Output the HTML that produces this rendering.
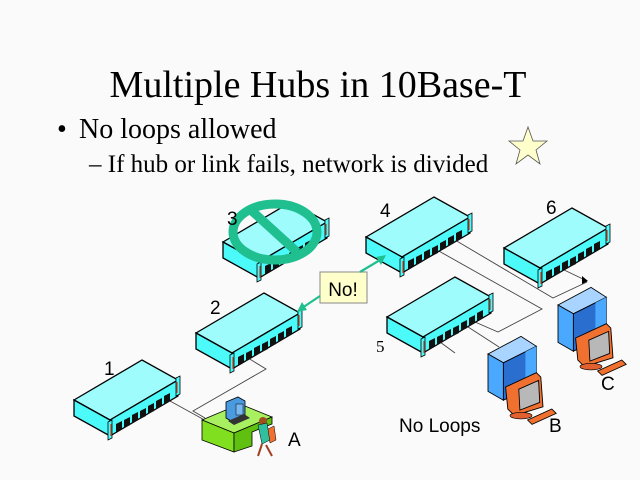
<!DOCTYPE html>
<html><head><meta charset="utf-8"><style>
body{margin:0;background:#fafafa;}
svg{display:block;}
</style></head><body>
<svg width="640" height="480" viewBox="0 0 640 480" xmlns="http://www.w3.org/2000/svg">
<defs>
<g id="hub">
  <polygon points="0,0 68,-40 104,-20 36,20" fill="#9ffcfc" stroke="#000" stroke-width="1.3"/>
  <polygon points="0,0 36,20 36,36 0,16" fill="#4dfafa" stroke="#000" stroke-width="1.3"/>
  <polygon points="36,20 104,-20 104,-4 36,36" fill="#4dfafa" stroke="#000" stroke-width="1.3"/>
  <g fill="#111">
    <polygon points="42,24 48,21 48,29 42,32"/>
    <polygon points="50,20 56,17 56,25 50,28"/>
    <polygon points="58,15 64,12 64,20 58,23"/>
    <polygon points="66,11 72,8 72,16 66,19"/>
    <polygon points="74,6 80,3 80,11 74,14"/>
    <polygon points="82,1 88,-2 88,6 82,9"/>
    <polygon points="90,-4 96,-7 96,1 90,4"/>
  </g>
  <polygon points="34,22 38,20 38,38 34,40" fill="#4dfafa" stroke="#000" stroke-width="0.8"/>
  <line x1="37" y1="24" x2="37" y2="36" stroke="#c04020" stroke-width="1.2"/>
  <polygon points="102,-22 106,-24 106,-6 102,-4" fill="#4dfafa" stroke="#000" stroke-width="0.8"/>
  <line x1="103" y1="-18" x2="103" y2="-7" stroke="#c04020" stroke-width="1.2"/>
</g>
<g id="pc">
  <polygon points="0,0 30,-16 44,-7 14,8" fill="#a8d4ff" stroke="#000" stroke-width="0.8"/>
  <polygon points="0,0 14,8 14,42 0,34" fill="#4aa8ff" stroke="#000" stroke-width="0.8"/>
  <polygon points="14,8 44,-7 44,28 14,42" fill="#2a6fd0" stroke="#000" stroke-width="0.8"/>
  <polygon points="34,-2 44,-7 44,28 34,33" fill="#4aa8ff"/>
  <polygon points="16,30 44,17 48,21 50,48 24,56 18,50" fill="#f07030" stroke="#000" stroke-width="0.8"/>
  <polygon points="28,32 46,24 47,44 29,51" fill="#b8b8b8" stroke="#000" stroke-width="0.8"/>
  <polygon points="36,60 58,50 62,54 40,64" fill="#f07030" stroke="#000" stroke-width="0.8"/>
  <ellipse cx="30" cy="56" rx="10" ry="3" fill="#e06030" stroke="#000" stroke-width="0.6"/>
</g>
</defs>

<text x="318" y="97" text-anchor="middle" font-family="Liberation Serif, serif" font-size="38">Multiple Hubs in 10Base-T</text>
<text x="57" y="138" font-family="Liberation Serif, serif" font-size="28">•</text>
<text x="79" y="138" font-family="Liberation Serif, serif" font-size="28">No loops allowed</text>
<text x="89" y="172" font-family="Liberation Serif, serif" font-size="25">– If hub or link fails, network is divided</text>
<polygon points="528,127 533,141 547,141 536,150 540,164 528,155 516,164 520,150 509,141 523,141" fill="#ffffcc" stroke="#555" stroke-width="0.8"/>

<g fill="none" stroke="#444" stroke-width="0.9">
  <polyline points="170,401 210,423"/>
  <polyline points="248,358 266,369 193,411 205,418"/>
  <polyline points="455,240 553,298 587,282"/>
  <polyline points="437,250 542,309 498,332 475,322"/>
  <polyline points="560,268 585,280"/>
  <polyline points="465,325 499,347"/>
  <polyline points="440,342 455,353"/>
</g>
<polygon points="582,276 588,281 582,284" fill="#000"/>

<use href="#hub" x="74" y="400"/>
<use href="#hub" x="196" y="333"/>
<use href="#hub" x="223" y="242"/>
<use href="#hub" x="366" y="237"/>
<use href="#hub" x="387" y="317"/>
<use href="#hub" x="504" y="248"/>

<ellipse cx="275" cy="232" rx="42" ry="28" fill="none" stroke="#1fbf8f" stroke-width="9"/>
<line x1="252" y1="211" x2="297" y2="252" stroke="#1fbf8f" stroke-width="9"/>

<!-- A workstation -->
<polygon points="202,420 240,404 272,417 234,433" fill="#a8f060" stroke="#000" stroke-width="0.8"/>
<polygon points="202,420 234,433 234,452 202,440" fill="#80e020" stroke="#000" stroke-width="0.8"/>
<polygon points="234,433 272,417 272,424 252,432 252,446 234,452" fill="#60c010" stroke="#000" stroke-width="0.8"/>
<polygon points="226,402 238,397 245,401 245,417 233,422 226,418" fill="#4a9ae0" stroke="#000" stroke-width="0.8"/>
<rect x="236" y="404" width="7" height="11" fill="#7ab8f0" stroke="#000" stroke-width="0.5"/>
<polygon points="228,421 244,414 250,418 234,425" fill="#333"/>
<circle cx="263" cy="421" r="4" fill="#a05020"/>
<polygon points="258,425 267,423 270,440 262,444" fill="#30c0a0" stroke="#000" stroke-width="0.5"/>
<polygon points="268,429 274,426 276,440 270,443" fill="#f07030" stroke="#000" stroke-width="0.5"/>
<line x1="262" y1="444" x2="258" y2="456" stroke="#a04020" stroke-width="2"/>
<line x1="266" y1="445" x2="272" y2="456" stroke="#a04020" stroke-width="2"/>

<use href="#pc" transform="translate(488,354) scale(1.1)"/>
<use href="#pc" transform="translate(558,305) scale(1.1)"/>

<rect x="320" y="272" width="47" height="31" fill="#ffffcc" stroke="#888" stroke-width="1"/>
<text x="343" y="296" text-anchor="middle" font-family="Liberation Sans, sans-serif" font-size="19">No!</text>
<g stroke="#1fbf8f" stroke-width="2.2" fill="#1fbf8f">
  <line x1="320" y1="296" x2="302" y2="308"/>
  <polygon points="297,312 302,302 307,310" stroke="none"/>
  <line x1="360" y1="272" x2="380" y2="260"/>
  <polygon points="386,255 381,265 376,257" stroke="none"/>
</g>

<g font-family="Liberation Sans, sans-serif" font-size="19">
<text x="104" y="375">1</text>
<text x="210" y="314">2</text>
<text x="227" y="225">3</text>
<text x="380" y="217">4</text>
<text x="546" y="214">6</text>
<text x="288" y="446">A</text>
<text x="549" y="432">B</text>
<text x="601" y="390">C</text>
<text x="399" y="432">No Loops</text>
</g>
<text x="376" y="352" font-family="Liberation Serif, serif" font-size="17">5</text>
</svg>
</body></html>
